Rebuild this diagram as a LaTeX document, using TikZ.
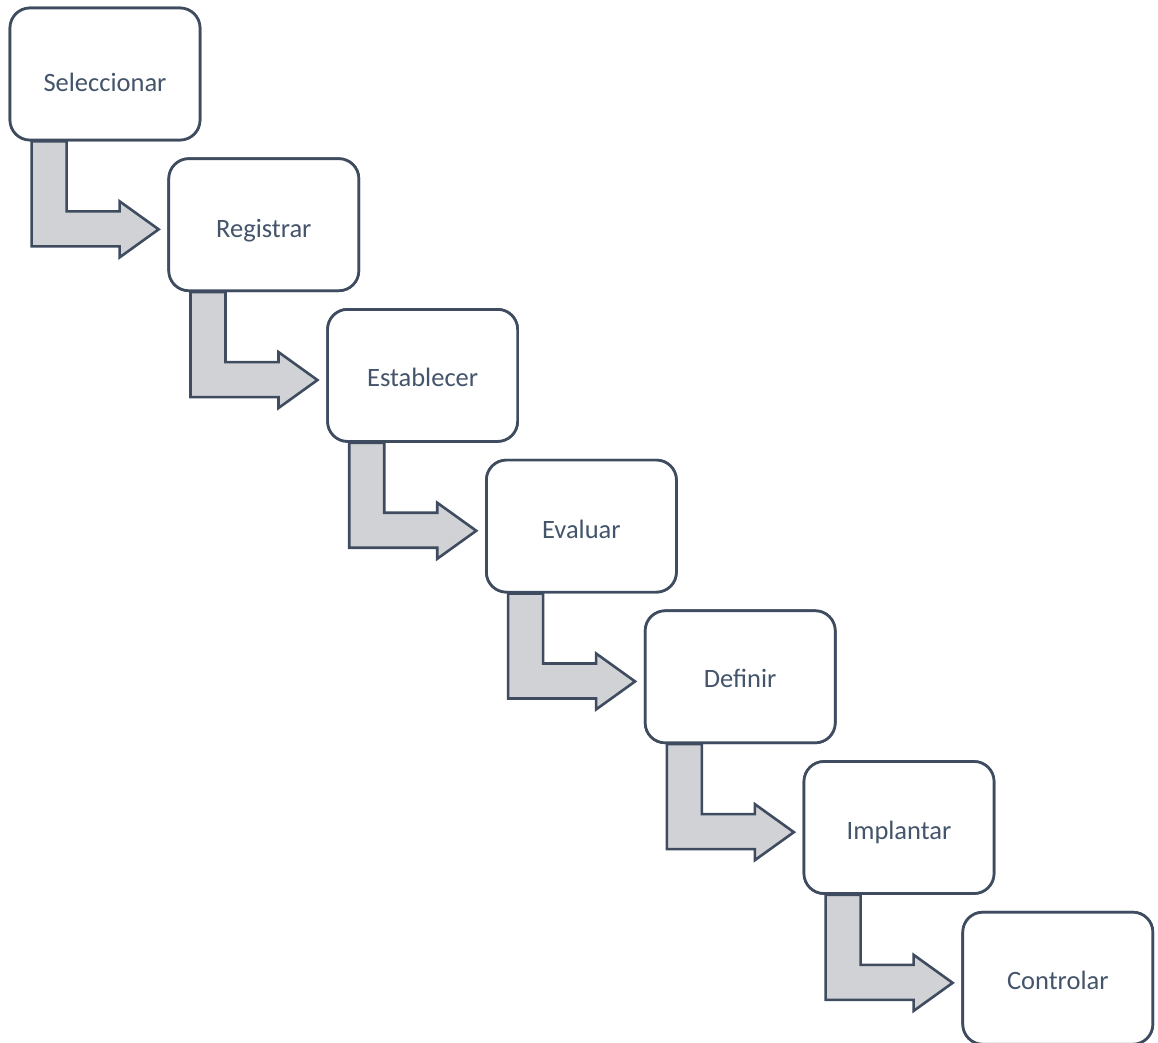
\documentclass[tikz,border=0pt]{standalone}
\usepackage{fontspec}
\setmainfont{Carlito}
\usetikzlibrary{calc}
\definecolor{slate}{HTML}{44546A}
\definecolor{edgec}{HTML}{3F4C60}
\definecolor{arrfill}{HTML}{D0D2D5}
\begin{document}
\begin{tikzpicture}[x=1pt,y=-1pt,
  stepbox/.style={draw=edgec, line width=2.7pt, rounded corners=20pt, fill=white,
    minimum width=190pt, minimum height=132pt, inner sep=0pt, text=slate,
    font=\fontsize{26.5}{30}\selectfont, text depth=0pt},
  bent/.style={draw=edgec, line width=2.6pt, fill=arrfill, line join=miter}]
\useasboundingbox (0,0) rectangle (1158,1043);
% boxes (placed first, for arrow references)
\foreach \i/\t/\h in {1/Seleccionar/36pt,2/Registrar/25pt,3/Establecer/23pt,4/Evaluar/24pt,5/Definir/22pt,6/Implantar/23pt,7/Controlar/23pt}{
  \node[stepbox, text height=\h] (b\i) at ({105+158.8*(\i-1)},{74+150.7*(\i-1)}) {\t};
}
% bent arrows, drawn from each box towards the next
\foreach \i in {1,...,6}{
  \draw[bent] ($(b\i.south west)+(23,0)$) -- ++(0,105) -- ++(88,0) -- ++(0,11)
    -- ($(b\i.south west)+(150,88)$) -- ($(b\i.south west)+(111,60)$) -- ++(0,10)
    -- ($(b\i.south west)+(58,70)$) -- ($(b\i.south west)+(58,0)$) -- cycle;
}
% redraw boxes on top
\foreach \i/\t/\h in {1/Seleccionar/36pt,2/Registrar/25pt,3/Establecer/23pt,4/Evaluar/24pt,5/Definir/22pt,6/Implantar/23pt,7/Controlar/23pt}{
  \node[stepbox, text height=\h] at (b\i) {\t};
}
\end{tikzpicture}
\end{document}
